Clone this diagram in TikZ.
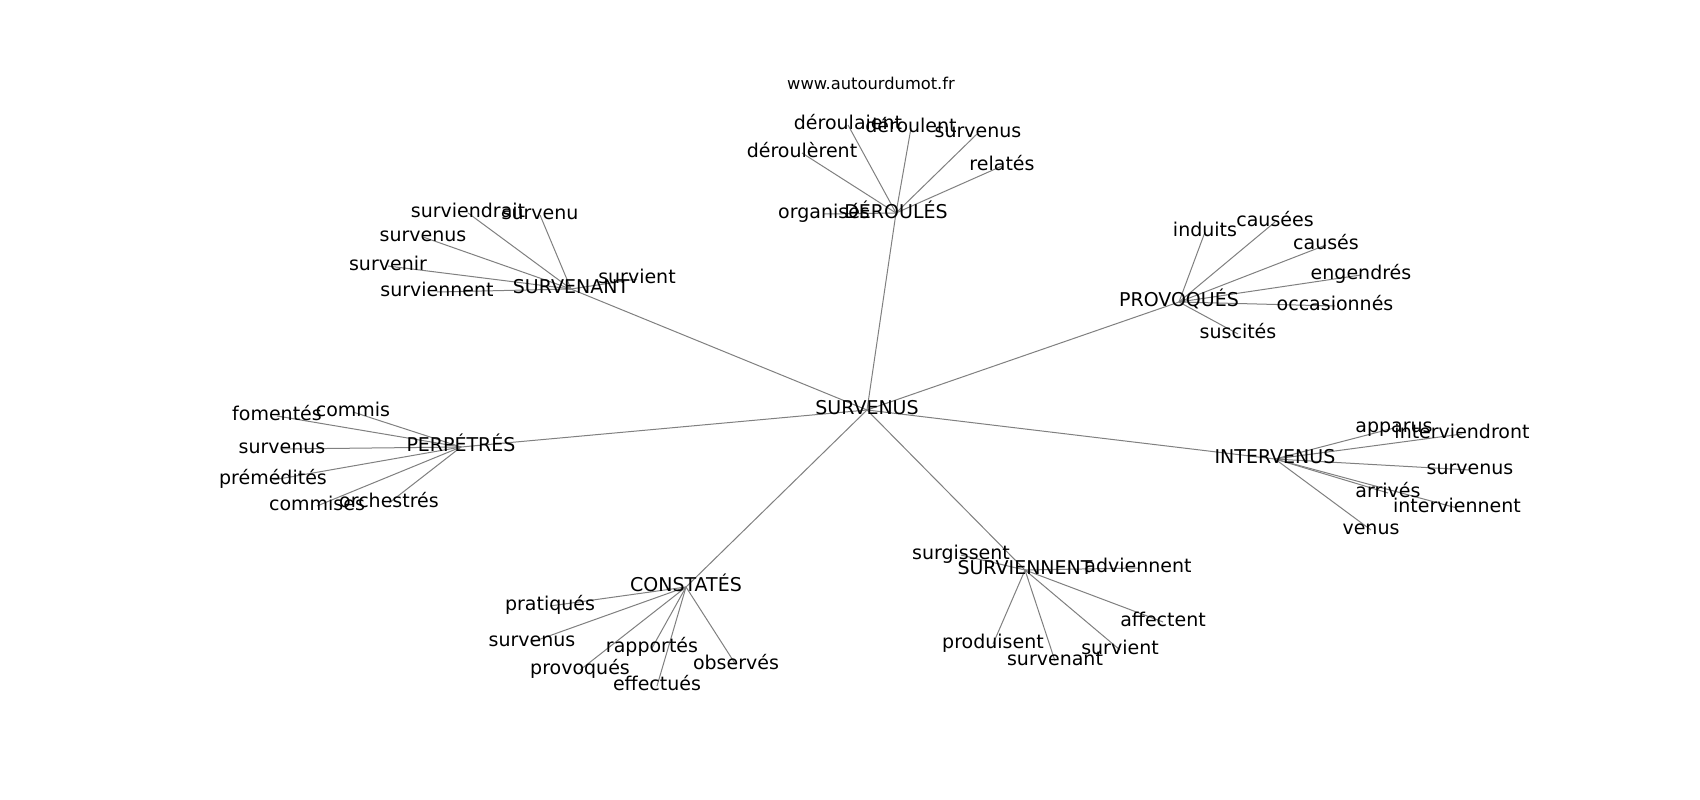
\documentclass[tikz,border=0pt]{standalone}
\usepackage{fontspec}
\setmainfont{DejaVu Sans}
\usetikzlibrary{backgrounds}
\definecolor{edgegray}{RGB}{128,128,128}
\tikzset{
  lbl/.style={font=\fontsize{19}{19}\selectfont, text height=0.96em, text depth=0.04em, inner sep=0pt, anchor=center},
  ttl/.style={font=\fontsize{16.3}{16.3}\selectfont, inner sep=0pt, anchor=center},
  edge/.style={draw=edgegray, line width=1pt}
}
\begin{document}
\begin{tikzpicture}[x=1pt,y=-1pt]
\useasboundingbox (0,0) rectangle (1700,800);
% hubs
\node[lbl] (s)  at (867,410) {SURVENUS};
\node[lbl, text height=1.05em, text depth=0em] (d)  at (896,213) {DÉROULÉS};
\node[lbl] (sa) at (571,289) {SURVENANT};
\node[lbl] (pv) at (1179,302) {PROVOQUÉS};
\node[lbl] (pp) at (461,447) {PERPÉTRÉS};
\node[lbl] (iv) at (1275,459) {INTERVENUS};
\node[lbl] (ct) at (686,587) {CONSTATÉS};
\node[lbl] (sv) at (1025,570) {SURVIENNENT};
% DÉROULÉS
\node[lbl] (d1) at (848,125) {déroulaient};
\node[lbl] (d2) at (911,128) {déroulent};
\node[lbl] (d3) at (978,133) {survenus};
\node[lbl] (d4) at (1002,166) {relatés};
\node[lbl] (d5) at (802,153) {déroulèrent};
\node[lbl] (d6) at (824,214) {organisés};
% SURVENANT
\node[lbl] (sa1) at (468,213) {surviendrait};
\node[lbl] (sa2) at (540,215) {survenu};
\node[lbl] (sa3) at (423,237) {survenus};
\node[lbl] (sa4) at (388,266) {survenir};
\node[lbl] (sa5) at (437,292) {surviennent};
\node[lbl] (sa6) at (637,279) {survient};
% PROVOQUÉS
\node[lbl] (pv1) at (1205,232) {induits};
\node[lbl] (pv2) at (1275,222) {causées};
\node[lbl] (pv3) at (1326,245) {causés};
\node[lbl] (pv4) at (1361,275) {engendrés};
\node[lbl] (pv5) at (1335,306) {occasionnés};
\node[lbl] (pv6) at (1238,334) {suscités};
% PERPÉTRÉS
\node[lbl] (pp1) at (277,416) {fomentés};
\node[lbl] (pp2) at (353,412) {commis};
\node[lbl] (pp3) at (282,449) {survenus};
\node[lbl] (pp4) at (273,480) {prémédités};
\node[lbl] (pp5) at (317,506) {commises};
\node[lbl] (pp6) at (389,503) {orchestrés};
% INTERVENUS
\node[lbl] (iv1) at (1394,428) {apparus};
\node[lbl] (iv2) at (1462,434) {interviendront};
\node[lbl] (iv3) at (1470,470) {survenus};
\node[lbl] (iv4) at (1388,493) {arrivés};
\node[lbl] (iv5) at (1457,508) {interviennent};
\node[lbl] (iv6) at (1371,530) {venus};
% CONSTATÉS
\node[lbl] (ct1) at (550,606) {pratiqués};
\node[lbl] (ct2) at (532,642) {survenus};
\node[lbl] (ct3) at (652,648) {rapportés};
\node[lbl] (ct4) at (580,670) {provoqués};
\node[lbl] (ct5) at (657,686) {effectués};
\node[lbl] (ct6) at (736,665) {observés};
% SURVIENNENT
\node[lbl] (sv1) at (961,555) {surgissent};
\node[lbl] (sv2) at (1138,568) {adviennent};
\node[lbl] (sv3) at (1163,622) {affectent};
\node[lbl] (sv4) at (993,644) {produisent};
\node[lbl] (sv5) at (1055,661) {survenant};
\node[lbl] (sv6) at (1120,650) {survient};
% title
\node[ttl] (title) at (871,83) {www.autourdumot.fr};
\begin{scope}[on background layer]
\fill[white] (0,0) rectangle (1700,800);
\foreach \h in {d,sa,pv,pp,iv,ct,sv}{\draw[edge] (s.center) -- (\h.center);}
\foreach \c in {d1,d2,d3,d4,d5,d6}{\draw[edge] (d.center) -- (\c.center);}
\foreach \c in {sa1,sa2,sa3,sa4,sa5,sa6}{\draw[edge] (sa.center) -- (\c.center);}
\foreach \c in {pv1,pv2,pv3,pv4,pv5,pv6}{\draw[edge] (pv.center) -- (\c.center);}
\foreach \c in {pp1,pp2,pp3,pp4,pp5,pp6}{\draw[edge] (pp.center) -- (\c.center);}
\foreach \c in {iv1,iv2,iv3,iv4,iv5,iv6}{\draw[edge] (iv.center) -- (\c.center);}
\foreach \c in {ct1,ct2,ct3,ct4,ct5,ct6}{\draw[edge] (ct.center) -- (\c.center);}
\foreach \c in {sv1,sv2,sv3,sv4,sv5,sv6}{\draw[edge] (sv.center) -- (\c.center);}
\end{scope}
\end{tikzpicture}
\end{document}
